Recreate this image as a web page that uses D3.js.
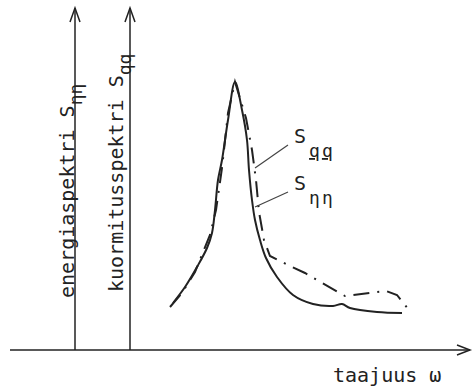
<!DOCTYPE html>
<html>
<head>
<meta charset="utf-8">
<script src="https://cdn.jsdelivr.net/npm/d3@7"></script>
<style>
  body { margin: 0; background: #fff; }
  svg text { font-family: "DejaVu Sans Mono", monospace; fill: #222; }
</style>
</head>
<body>
<div id="chart"></div>
<script>
// energy spectrum S_ηη (solid) and load spectrum S_qq (dash-dot), arbitrary units
const omegaEta = [16.3, 17.5, 18.7, 19.7, 20.2, 20.5, 20.8, 21.2, 21.8, 22.5, 23.2, 23.7, 23.9, 24.2, 24.5, 25.0, 25.6, 26.7, 28.3, 30.3, 32.3, 33.2, 34.0, 36.7, 39.2];
const sEta     = [4.7, 6.3, 8.3, 10.2, 11.7, 14.0, 17.0, 19.0, 23.0, 26.8, 24.0, 21.0, 18.0, 15.0, 13.0, 11.0, 9.2, 7.3, 5.5, 4.6, 4.4, 4.6, 4.2, 3.8, 3.7];

const omegaQ = [16.0, 17.2, 18.5, 20.0, 20.6, 21.2, 21.8, 22.5, 23.6, 24.2, 24.6, 24.9, 25.4, 26.0, 28.0, 29.5, 33.5, 37.6, 38.7, 39.9];
const sQ     = [4.3, 5.7, 7.8, 11.5, 14.0, 18.2, 23.7, 26.8, 23.2, 20.0, 17.0, 13.8, 11.0, 9.4, 8.4, 7.7, 5.4, 5.9, 5.5, 4.0];

// the two vertical axes (where they stand on the ω axis)
const axisOmega = [6.5, 12.0];
const axisLabels = [
  { main: "energiaspektri S", sub: "ηη" },
  { main: "kuormitusspektri S", sub: "qq" }
];
const xLabel = "taajuus ω";

const W = 473, H = 392;
const svg = d3.select("#chart").append("svg")
  .attr("width", W).attr("height", H);

const x = d3.scaleLinear().domain([0, 46]).range([10, 470]);
const y = d3.scaleLinear().domain([0, 34]).range([350, 10]);

const ink = "#222";

// horizontal ω axis with open arrow head
svg.append("line")
  .attr("x1", x(0)).attr("x2", x(46))
  .attr("y1", y(0)).attr("y2", y(0))
  .attr("stroke", ink).attr("stroke-width", 1.5);
svg.append("path")
  .attr("d", `M${x(46) - 13},${y(0) - 5}L${x(46)},${y(0)}L${x(46) - 13},${y(0) + 5}`)
  .attr("fill", "none").attr("stroke", ink).attr("stroke-width", 1.5);

// vertical axes
axisOmega.forEach((w, i) => {
  const px = x(w), top = y(34.2);
  svg.append("line")
    .attr("x1", px).attr("x2", px)
    .attr("y1", y(0)).attr("y2", top)
    .attr("stroke", ink).attr("stroke-width", 1.5);
  svg.append("path")
    .attr("d", `M${px - 5},${top + 14}L${px},${top}L${px + 5},${top + 14}`)
    .attr("fill", "none").attr("stroke", ink).attr("stroke-width", 1.5);

  const starts = [298, 292];
  const t = svg.append("text")
    .attr("transform", `translate(${px - 1 - i * 6},${starts[i]}) rotate(-90)`)
    .attr("font-size", 20);
  t.append("tspan").text(axisLabels[i].main);
  t.append("tspan").attr("dy", 8).attr("font-size", 18).text(axisLabels[i].sub);
});

// spectra
const line = d3.line().x(d => x(d[0])).y(d => y(d[1]));

svg.append("path")
  .datum(d3.zip(omegaEta, sEta))
  .attr("d", line.curve(d3.curveCatmullRom.alpha(0.5)))
  .attr("fill", "none").attr("stroke", ink).attr("stroke-width", 2);

svg.append("path")
  .datum(d3.zip(omegaQ, sQ))
  .attr("d", line.curve(d3.curveLinear))
  .attr("fill", "none").attr("stroke", ink).attr("stroke-width", 2)
  .attr("stroke-dasharray", "16,8,2,8");

// leader lines + curve labels
const leaders = [
  { from: [27.8, 20.5], to: [24.5, 18.2], sub: "qq", underline: true, ty: 20.7 },
  { from: [27.8, 15.8], to: [24.5, 14.3], sub: "ηη", underline: false, ty: 16.0 }
];
leaders.forEach(l => {
  svg.append("line")
    .attr("x1", x(l.from[0])).attr("y1", y(l.from[1]))
    .attr("x2", x(l.to[0])).attr("y2", y(l.to[1]))
    .attr("stroke", "#444").attr("stroke-width", 1.2);
  const t = svg.append("text")
    .attr("x", 294).attr("y", y(l.ty))
    .attr("font-size", 20);
  t.append("tspan").text("S");
  // each subscript letter on its own so underlines stay separate
  l.sub.split("").forEach((ch, k) => {
    t.append("tspan")
      .attr("dx", k === 0 ? 3 : 2)
      .attr("dy", k === 0 ? 14 : 0)
      .attr("font-size", 18)
      .style("text-decoration", l.underline ? "underline" : null)
      .text(ch);
  });
});

// ω axis title
svg.append("text")
  .attr("x", 333).attr("y", 382)
  .attr("font-size", 20)
  .text(xLabel);
</script>
</body>
</html>
